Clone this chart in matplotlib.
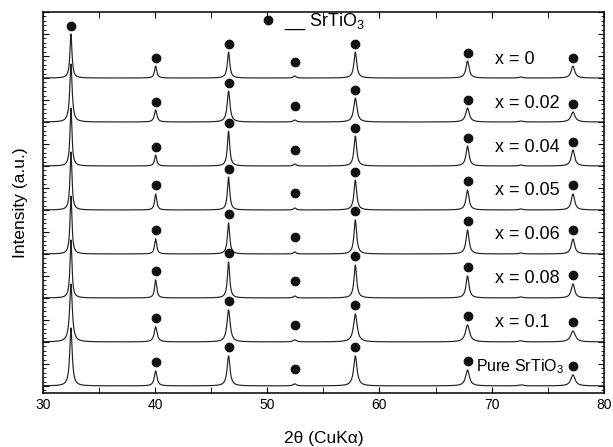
import matplotlib
matplotlib.use("Agg")
import matplotlib.pyplot as plt
import numpy as np
from matplotlib.ticker import MultipleLocator
from matplotlib.lines import Line2D

plt.rcParams['font.family'] = ['Liberation Sans', 'DejaVu Sans']
plt.rcParams['mathtext.fontset'] = 'custom'
plt.rcParams['mathtext.rm'] = 'Liberation Sans'
plt.rcParams['mathtext.it'] = 'Liberation Sans:italic'

# образці, зверху вниз
samples = ['x = 0', 'x = 0.02', 'x = 0.04', 'x = 0.05', 'x = 0.06',
           'x = 0.08', 'x = 0.1', 'Pure SrTiO$_3$']
offsets = [308, 264, 220, 176, 132, 88, 44, 0]

# положення піків SrTiO3 (2θ)
peak_pos = [32.5, 40.05, 46.55, 52.45, 57.85, 67.85, 72.6, 77.25]
peak_fwhm = [0.22, 0.24, 0.26, 0.28, 0.30, 0.34, 0.4, 0.38]
# висоти піків (умовні одиниці) для кожного зразка
heights = [
    [44, 12, 26, 2, 26, 17, 1, 12],
    [58, 12, 31, 2, 24, 14, 1, 10],
    [58, 11, 35, 2, 30, 20, 1, 16],
    [58, 16, 33, 2, 30, 20, 1, 16],
    [58, 15, 31, 2, 34, 24, 1, 15],
    [58, 18, 36, 2, 33, 22, 1, 14],
    [58, 15, 32, 2, 28, 17, 1, 11],
    [58, 15, 30, 2, 30, 16, 1, 11],
]
width_scale = [1.0, 1.15, 0.95, 0.95, 0.95, 0.95, 1.3, 1.2]
# піки, позначені крапками (32.5 лише у верхньому)
dot_gap = 8.5
marked = [1, 2, 3, 4, 5, 7]


def profile(x, hs, ws):
    y = np.zeros_like(x)
    for p, h, w in zip(peak_pos, hs, peak_fwhm):
        g = w * ws / 2
        y += h * g ** 2 / ((x - p) ** 2 + g ** 2)
    return y


tt = np.linspace(30, 80, 5000)

fig = plt.figure(figsize=(6.13, 4.47), dpi=100)
ax = fig.add_axes([0.070, 0.121, 0.915, 0.852])

for i, lab in enumerate(samples):
    off = offsets[i]
    ax.plot(tt, profile(tt, heights[i], width_scale[i]) + off, color='#222222', lw=0.85)
    idx = ([0] if i == 0 else []) + marked
    xs = [peak_pos[k] for k in idx]
    ys = [off + heights[i][k] + dot_gap + (6 if k == 3 else 0) for k in idx]
    ax.plot(xs, ys, 'o', color='#111111', ms=6, ls='none')
    if i == len(samples) - 1:
        ax.text(68.6, off + 19, lab, fontsize=11.5, va='center', ha='left')
    else:
        ax.text(70.3, off + 19, lab, fontsize=13, va='center', ha='left')

ax.set_xlim(30, 80)
ax.set_ylim(-7, 374)
ax.xaxis.set_major_locator(MultipleLocator(10))
ax.xaxis.set_minor_locator(MultipleLocator(5))
ax.yaxis.set_major_locator(MultipleLocator(22))
ax.yaxis.set_minor_locator(MultipleLocator(4.4))
ax.tick_params(which='both', direction='in', top=True, right=True, labelsize=10)
ax.tick_params(which='major', length=4)
ax.tick_params(which='minor', length=2)
ax.tick_params(axis='x', which='minor', length=4)
ax.set_yticklabels([])
for s in ax.spines.values():
    s.set_linewidth(1.1)

ax.set_xlabel('2θ (CuKα)', fontsize=12.5, labelpad=14)
ax.set_ylabel('Intensity (a.u.)', fontsize=12.5, labelpad=7)

h = Line2D([], [], marker='o', color='#111111', ls='none', ms=6)
ax.legend([h], ['__ SrTiO$_3$'], loc='upper left', bbox_to_anchor=(0.369, 1.02),
          frameon=False, fontsize=13, handletextpad=0.3, handlelength=1.2,
          borderaxespad=0)

fig.savefig('out.png', dpi=100)
